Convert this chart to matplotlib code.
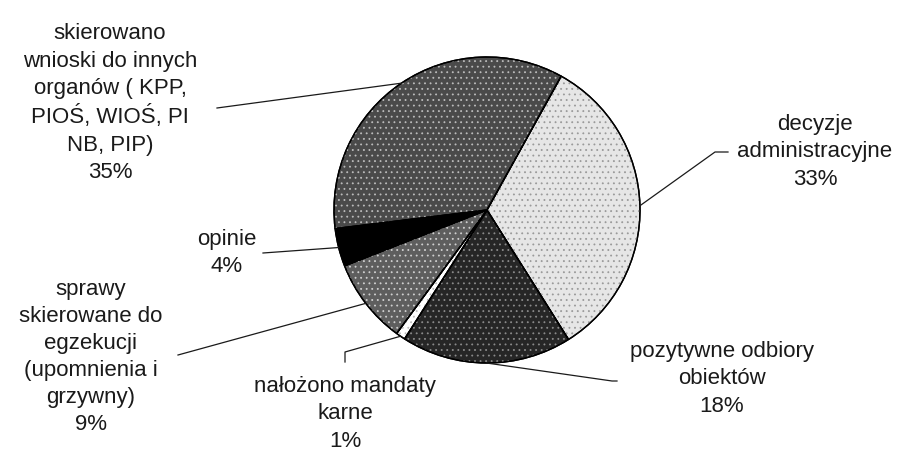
import matplotlib
matplotlib.use('Agg')
import matplotlib.pyplot as plt
import numpy as np

plt.rcParams['font.family'] = ['Liberation Sans', 'DejaVu Sans']
plt.rcParams['hatch.linewidth'] = 0.6

# data
categories = ['decyzje\nadministracyjne',
              'pozytywne odbiory\nobiektów',
              'nałożono mandaty\nkarne',
              'sprawy\nskierowane do\negzekucji\n(upomnienia i\ngrzywny)',
              'opinie',
              'skierowano\nwnioski do innych\norganów ( KPP,\nPIOŚ, WIOŚ, PI\nNB, PIP)']
values = [33, 18, 1, 9, 4, 35]
colors = ['#e6e6e6', '#262626', '#ffffff', '#5e5e5e', '#000000', '#4a4a4a']
speckle = ['#9a9a9a', '#8a8a8a', '#bbbbbb', '#d0d0d0', '#000000', '#bcbcbc']

# label placement (pixel coords, y from top): text centre, leader path end
label_pos = [(815, 152), (722, 379), (345, 414), (91, 357), (227, 253), (110, 103)]
leader_end = [[(715, 152), (728, 152)],
              [(612, 381), (617, 381)],
              [(345, 352), (345, 362)],
              [(178, 355)],
              [(263, 253)],
              [(217, 108)]]

W, H = 904, 454
fig = plt.figure(figsize=(W / 100, H / 100), dpi=100)
ax = fig.add_axes([0, 0, 1, 1])

cx, cy, r = 487, H - 210, 153
wedges, _ = ax.pie(values, colors=colors, startangle=61, counterclock=False,
                   center=(cx, cy), radius=r, frame=True,
                   wedgeprops=dict(edgecolor='black', linewidth=1))
# stipple texture on top of the fills
tex, _ = ax.pie(values, colors=['none'] * len(values), startangle=61,
                counterclock=False, center=(cx, cy), radius=r, frame=True,
                wedgeprops=dict(linewidth=0))
for t, c in zip(tex, speckle):
    t.set_edgecolor(c)
    t.set_hatch('...')
    t.set_facecolor('none')
# redraw outlines over the texture
ax.pie(values, colors=['none'] * len(values), startangle=61, counterclock=False,
       center=(cx, cy), radius=r, frame=True,
       wedgeprops=dict(edgecolor='black', linewidth=1, fill=False))

ax.set_xlim(0, W)
ax.set_ylim(0, H)
ax.set_aspect('equal')
ax.axis('off')

total = sum(values)
for w, name, v, (tx, ty), path in zip(wedges, categories, values, label_pos, leader_end):
    mid = np.deg2rad((w.theta1 + w.theta2) / 2)
    ax0 = cx + r * np.cos(mid)
    ay0 = cy + r * np.sin(mid)
    xs = [ax0] + [p[0] for p in path]
    ys = [ay0] + [H - p[1] for p in path]
    ax.plot(xs, ys, color='#1a1a1a', lw=0.9)
    pct = round(v / total * 100)
    ax.text(tx, H - ty, f'{name}\n{pct}%', ha='center', va='center',
            fontsize=16, color='#1a1a1a', linespacing=1.38)

fig.savefig('out.png', dpi=100, facecolor='white')
